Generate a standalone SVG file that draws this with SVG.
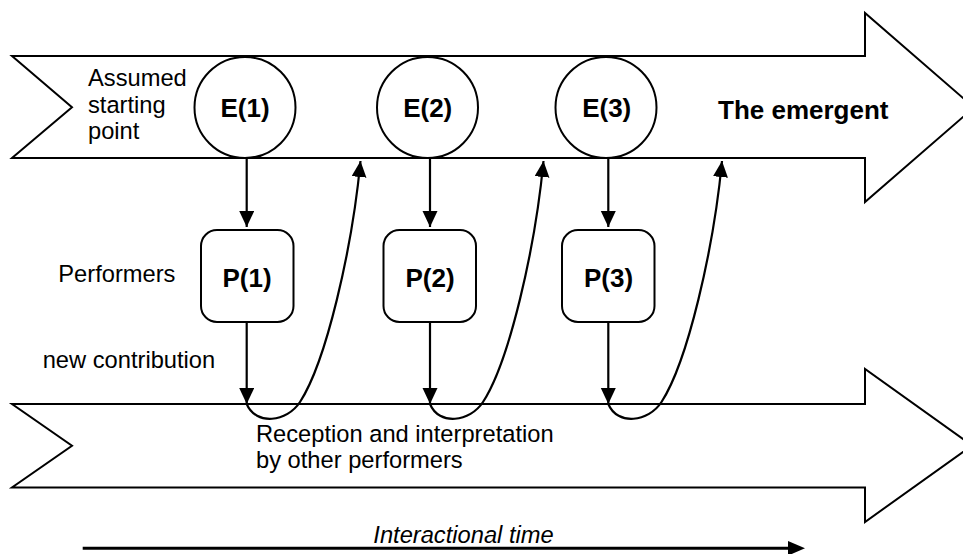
<svg xmlns="http://www.w3.org/2000/svg" width="963" height="554" viewBox="0 0 963 554">
  <defs>
    <style>
      .band { fill: #ffffff; stroke: #000000; stroke-width: 2; stroke-linejoin: miter; }
      .node { fill: #ffffff; stroke: #000000; stroke-width: 2; }
      .edge { fill: none; stroke: #000000; stroke-width: 2.2; }
      .lbl { font-family: "Liberation Sans", Arial, sans-serif; font-size: 23.7px; fill: #000000; }
      .bold { font-family: "Liberation Sans", Arial, sans-serif; font-size: 26px; font-weight: bold; fill: #000000; }
      .mid { text-anchor: middle; }
    </style>
    <marker id="head" markerUnits="userSpaceOnUse" markerWidth="17" markerHeight="16" refX="16" refY="7.5" orient="auto" viewBox="0 0 17 16">
      <path d="M0,0 L16,7.5 L0,15 z" fill="#000000"/>
    </marker>
  </defs>

  <!-- the two large band arrows -->
  <g id="emergent-band">
    <polygon class="band" points="12,56 865,56 865,13 974,107.5 865,202 865,158 12,158 72,107.3"/>
    <text class="bold" x="718" y="119">The emergent</text>
  </g>
  <g id="reception-band">
    <polygon class="band" points="12,404 865,404 865,369 972,445.5 865,522 865,487.5 12,487.5 72,445.7"/>
    <text class="lbl" x="256" y="441.7">Reception and interpretation</text>
    <text class="lbl" x="256" y="468.3">by other performers</text>
  </g>

  <!-- side labels -->
  <g id="start-label">
    <text class="lbl" x="88" y="86">Assumed</text>
    <text class="lbl" x="88" y="112.7">starting</text>
    <text class="lbl" x="88" y="139.3">point</text>
  </g>
  <g id="performers-label">
    <text class="lbl" x="58.3" y="281.7">Performers</text>
  </g>
  <g id="contribution-label">
    <text class="lbl" x="42.7" y="368">new contribution</text>
  </g>

  <!-- emergent states -->
  <g id="E1">
    <circle class="node" cx="245" cy="107.5" r="50.5"/>
    <text class="bold mid" x="245" y="117.3">E(1)</text>
  </g>
  <g id="E2">
    <circle class="node" cx="427.5" cy="107.5" r="50.5"/>
    <text class="bold mid" x="427.7" y="117.3">E(2)</text>
  </g>
  <g id="E3">
    <circle class="node" cx="606" cy="107.5" r="50.5"/>
    <text class="bold mid" x="606.7" y="117.3">E(3)</text>
  </g>

  <!-- performers -->
  <g id="P1">
    <rect class="node" x="201" y="230" width="92.5" height="92" rx="16" ry="16"/>
    <text class="bold mid" x="247" y="287.3">P(1)</text>
  </g>
  <g id="P2">
    <rect class="node" x="383.5" y="230" width="92.5" height="92" rx="16" ry="16"/>
    <text class="bold mid" x="430" y="287.3">P(2)</text>
  </g>
  <g id="P3">
    <rect class="node" x="562" y="230" width="92.5" height="92" rx="16" ry="16"/>
    <text class="bold mid" x="608.5" y="287.3">P(3)</text>
  </g>

  <!-- connectors -->
  <g id="connectors">
    <line class="edge" x1="246.7" y1="158" x2="246.7" y2="227" marker-end="url(#head)"/>
    <line class="edge" x1="430" y1="158" x2="430" y2="227" marker-end="url(#head)"/>
    <line class="edge" x1="608.3" y1="158" x2="608.3" y2="227" marker-end="url(#head)"/>

    <line class="edge" x1="246.7" y1="322" x2="246.7" y2="404" marker-end="url(#head)"/>
    <line class="edge" x1="430" y1="322" x2="430" y2="404" marker-end="url(#head)"/>
    <line class="edge" x1="608.3" y1="322" x2="608.3" y2="404" marker-end="url(#head)"/>

    <path class="edge" d="M246.7,404 C256,426 287,422 300,402 C326,362 352,250 360.5,161" marker-end="url(#head)"/>
    <path class="edge" d="M430,404 C439,426 470,422 483,402 C509,362 535,250 543.5,161" marker-end="url(#head)"/>
    <path class="edge" d="M608.3,404 C617.5,426 648.5,422 661.5,402 C687.5,362 713.5,250 722,161" marker-end="url(#head)"/>
  </g>

  <!-- time axis -->
  <g id="time-axis">
    <line x1="82.7" y1="548.3" x2="790" y2="548.3" stroke="#000000" stroke-width="3"/>
    <polygon points="788,541 805,548.3 788,555.6" fill="#000000"/>
    <text class="lbl" x="373.3" y="543.3" font-style="italic">Interactional time</text>
  </g>
</svg>
